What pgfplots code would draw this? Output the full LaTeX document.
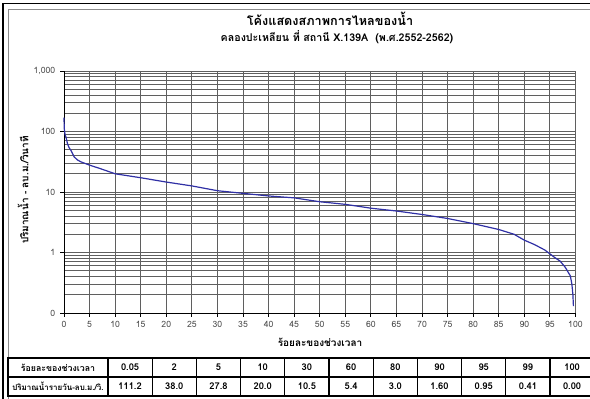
\documentclass[border=0pt]{standalone}
\usepackage{fontspec}
\setmainfont[Script=Thai]{Loma}
\usepackage{pgfplots}
\pgfplotsset{compat=1.18}
\definecolor{flow}{RGB}{48,48,165}
\definecolor{gridc}{RGB}{95,95,95}

\begin{document}
\begin{tikzpicture}[x=0.75pt,y=-0.75pt]
\path[use as bounding box] (0,0) rectangle (590,399);
\clip (0,0) rectangle (590,399);

% outer frame
\draw[line width=1.3pt] (3,402) -- (3,3.5) -- (600,3.5);
\draw[black!45, line width=0.6pt] (8,402) -- (8,9) -- (600,9);

% titles
\node[font=\bfseries\fontsize{9.5}{11}\selectfont] at (330,19) {โค้งแสดงสภาพการไหลของน้ำ};
\node[font=\bfseries\fontsize{8}{10}\selectfont] at (337,37) {คลองปะเหลียน ที่ สถานี X.139A\ \ (พ.ศ.2552-2562)};

\begin{axis}[
  at={(48pt,-234.75pt)}, anchor=south west,
  scale only axis, width=383.6pt, height=181.5pt,
  xmin=0, xmax=100, ymode=log, ymin=0.1, ymax=1000,
  xtick={0,5,...,100},
  ytick={0.1,1,10,100,1000},
  yticklabels={0,1,10,100,{1,000}},
  xmajorgrids, ymajorgrids, yminorgrids,
  grid style={gridc, line width=0.65pt},
  minor grid style={gridc, line width=0.65pt},
  major grid style={gridc, line width=0.65pt},
  axis x line*=bottom, axis y line*=left,
  axis line style={black, line width=0.7pt},
  tick align=outside, major tick length=3pt, minor tick length=0pt,
  tick style={black, line width=0.6pt},
  ticklabel style={font=\fontsize{6.5}{7}\selectfont, text=black!70},
  /pgf/number format/assume math mode=true,
  clip=false,
]
\addplot[flow, line width=0.9pt] coordinates {
  (0,170) (0.05,111.2) (0.2,90) (0.4,80) (0.7,62) (1.0,54) (1.4,48)
  (2,38.0) (2.6,34) (3.3,31.5) (5,27.8) (7,24.5) (10,20.0) (15,17.2)
  (20,14.6) (25,12.6) (30,10.5) (35,9.5) (40,8.6) (45,8.0) (50,6.9)
  (55,6.25) (60,5.4) (65,4.85) (70,4.25) (75,3.65) (80,3.0) (85,2.4)
  (88,2.0) (90,1.60) (92,1.35) (94,1.10) (95,0.95) (96,0.82) (97,0.72)
  (98,0.57) (99,0.41) (99.3,0.30) (99.5,0.20) (99.6,0.13)
};
\end{axis}

% axis titles
\node[font=\bfseries\fontsize{7.5}{9}\selectfont] at (320,342) {ร้อยละของช่วงเวลา};
\node[font=\bfseries\fontsize{7.5}{9}\selectfont, rotate=90] at (23,190) {ปริมาณน้ำ - ลบ.ม./วินาที};

% summary table
\fill[white] (8,358) rectangle (600,396);
\draw[line width=0.8pt] (8,358) rectangle (600,396);
\draw[line width=0.8pt] (8,377) -- (600,377);
\foreach \k in {0,...,10} {
  \draw[line width=0.8pt] ({108+44.2*\k},358) -- ({108+44.2*\k},396);
}
\node[font=\bfseries\fontsize{6.6}{8}\selectfont] at (58,367.5) {ร้อยละของช่วงเวลา};
\node[font=\bfseries\fontsize{6}{8}\selectfont, inner sep=0pt] at (58,386.5) {ปริมาณน้ำรายวัน-ลบ.ม./วิ.};
\foreach \v [count=\i] in {0.05,2,5,10,30,60,80,90,95,99,100} {
  \node[font=\bfseries\fontsize{7}{8}\selectfont] at ({108+44.2*(\i-0.5)},367.5) {\v};
}
\foreach \v [count=\i] in {111.2,38.0,27.8,20.0,10.5,5.4,3.0,1.60,0.95,0.41,0.00} {
  \node[font=\bfseries\fontsize{7}{8}\selectfont] at ({108+44.2*(\i-0.5)},386.5) {\v};
}
\end{tikzpicture}
\end{document}
